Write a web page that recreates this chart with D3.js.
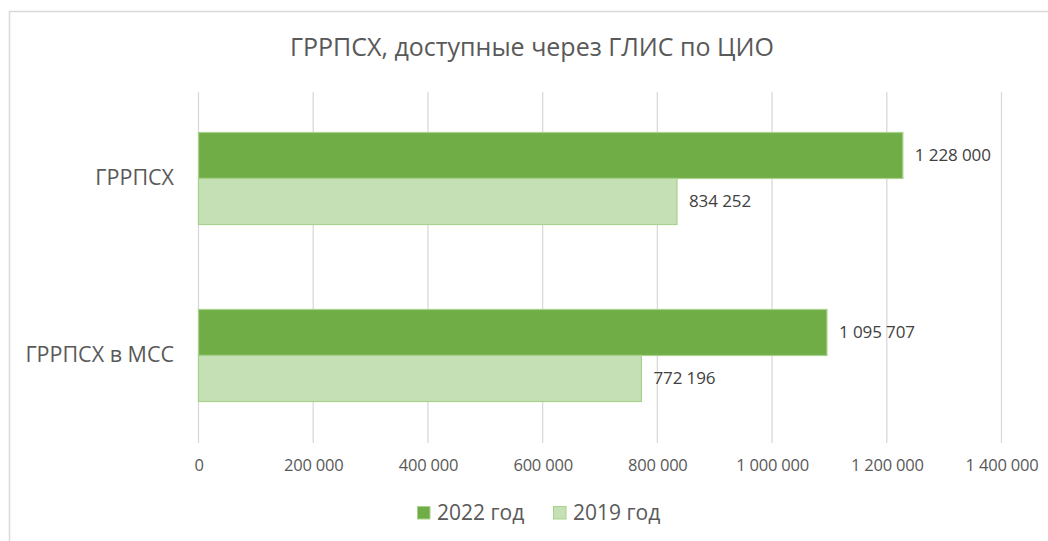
<!DOCTYPE html>
<html lang="ru">
<head>
<meta charset="utf-8">
<script src="https://cdn.jsdelivr.net/npm/d3@7.9.0/dist/d3.min.js"></script>
<style>
  html, body { margin: 0; padding: 0; background: #fff; }
  svg { display: block; font-family: 'Open Sans', sans-serif; }
</style>
</head>
<body>
<svg id="chart" width="1048" height="541"></svg>
<script>
const categories = ['ГРРПСХ', 'ГРРПСХ в МСС'];
const seriesNames = ['2022 год', '2019 год'];
const values2022 = [1228000, 1095707];
const values2019 = [834252, 772196];
const xTicks = [0, 200000, 400000, 600000, 800000, 1000000, 1200000, 1400000];

const colors = { '2022 год': '#70AD47', '2019 год': '#C5E0B4' };
const strokes = { '2022 год': '#A9D18E', '2019 год': '#A9D18E' };

const ru = d3.formatLocale({ decimal: ',', thousands: '\u00a0', grouping: [3], currency: ['', ' ₽'] });
const fmt = ru.format(',d');

const rows = categories.map((c, i) => ({
  category: c,
  values: [
    { series: '2022 год', value: values2022[i] },
    { series: '2019 год', value: values2019[i] }
  ]
}));

const svg = d3.select('#chart');
const textColor = '#595959';

// chart frame
svg.append('rect')
  .attr('x', 9.5).attr('y', 11.5)
  .attr('width', 1060).attr('height', 560)
  .attr('fill', '#fff').attr('stroke', '#D9D9D9').attr('stroke-width', 1.5);

svg.append('text')
  .attr('x', 532).attr('y', 56)
  .attr('text-anchor', 'middle')
  .attr('fill', textColor)
  .style('font-size', '25px')
  .text('ГРРПСХ, доступные через ГЛИС по ЦИО');

const x = d3.scaleLinear().domain([0, 1400000]).range([198.5, 1001.5]);
const y = d3.scaleBand().domain(categories).range([90, 444]).paddingInner(0.48).paddingOuter(0.24);
const ySub = d3.scaleBand().domain(seriesNames).range([0, y.bandwidth()]);

// gridlines
svg.append('g')
  .selectAll('line')
  .data(xTicks)
  .join('line')
  .attr('x1', (d) => x(d)).attr('x2', (d) => x(d))
  .attr('y1', 92).attr('y2', 443)
  .attr('stroke', '#D9D9D9').attr('stroke-width', 1.3);

// x axis labels
const xAxis = svg.append('g')
  .attr('transform', 'translate(0,443)')
  .call(d3.axisBottom(x).tickValues(xTicks).tickSize(0).tickPadding(16).tickFormat(fmt));
xAxis.select('.domain').remove();
xAxis.selectAll('text')
  .attr('fill', textColor)
  .style('font-family', "'Open Sans', sans-serif")
  .style('font-size', '16.5px')
  .style('letter-spacing', '-0.2px');

// category labels
const yAxis = svg.append('g')
  .attr('transform', 'translate(198,0)')
  .call(d3.axisLeft(y).tickSize(0).tickPadding(24));
yAxis.select('.domain').remove();
yAxis.selectAll('text')
  .attr('fill', textColor)
  .style('font-family', "'Open Sans', sans-serif")
  .style('font-size', '21.5px');

// bars
const groups = svg.append('g')
  .selectAll('g')
  .data(rows)
  .join('g')
  .attr('transform', (d) => `translate(0,${y(d.category)})`);

groups.selectAll('rect')
  .data((d) => d.values)
  .join('rect')
  .attr('x', x(0))
  .attr('y', (d) => ySub(d.series))
  .attr('width', (d) => x(d.value) - x(0))
  .attr('height', ySub.bandwidth())
  .attr('fill', (d) => colors[d.series])
  .attr('stroke', (d) => strokes[d.series])
  .attr('stroke-width', 1.2);

groups.selectAll('text')
  .data((d) => d.values)
  .join('text')
  .attr('x', (d) => x(d.value) + 12)
  .attr('y', (d) => ySub(d.series) + ySub.bandwidth() / 2)
  .attr('dy', '0.35em')
  .attr('fill', '#404040')
  .style('font-size', '17px')
  .style('letter-spacing', '-0.1px')
  .text((d) => fmt(d.value));

// legend
const legendItems = [
  { series: '2022 год', x: 417 },
  { series: '2019 год', x: 553 }
];
const legend = svg.append('g')
  .selectAll('g')
  .data(legendItems)
  .join('g')
  .attr('transform', (d) => `translate(${d.x},506)`);

legend.append('rect')
  .attr('x', 0.5).attr('y', 0.5)
  .attr('width', 12.5).attr('height', 12.5)
  .attr('fill', (d) => colors[d.series])
  .attr('stroke', (d) => strokes[d.series]);

legend.append('text')
  .attr('x', 20).attr('y', 7)
  .attr('dy', '0.35em')
  .attr('fill', textColor)
  .style('font-size', '21px')
  .text((d) => d.series);
</script>
</body>
</html>
